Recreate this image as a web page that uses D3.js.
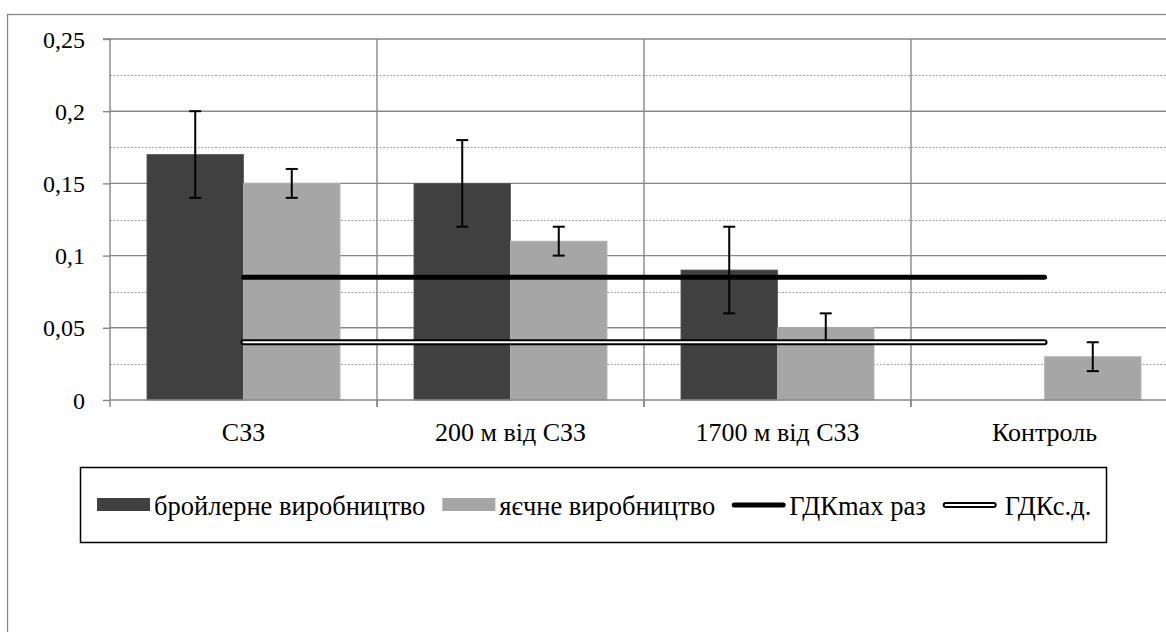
<!DOCTYPE html>
<html>
<head>
<meta charset="utf-8">
<script src="https://cdn.jsdelivr.net/npm/d3@7"></script>
<style>
  html, body { margin: 0; padding: 0; background: #fff; }
  svg { display: block; }
</style>
</head>
<body>
<svg id="chart" width="1166" height="632"></svg>
<script>
const categories = ["СЗЗ", "200 м від СЗЗ", "1700 м від СЗЗ", "Контроль"];
const seriesNames = ["бройлерне виробництво", "яєчне виробництво", "ГДКmax раз", "ГДКс.д."];
const broiler = [0.17, 0.15, 0.09, null];
const broilerErr = [0.03, 0.03, 0.03, null];
const egg = [0.15, 0.11, 0.05, 0.03];
const eggErr = [0.01, 0.01, 0.01, 0.01];
const gdkMax = [0.085, 0.085, 0.085, 0.085];
const gdkSd = [0.04, 0.04, 0.04, 0.04];
const yTicks = [0, 0.05, 0.1, 0.15, 0.2, 0.25];
const yMinorTicks = [0.025, 0.075, 0.125, 0.175, 0.225];

const FONT = "'Liberation Serif'";
const BASE = 30; // render text at 30px, then scale to the wanted size
const svg = d3.select("#chart");
const plot = { left: 110, top: 39, right: 1178, bottom: 400 };

const darkCol = "#404040", lightCol = "#a6a6a6", gridCol = "#878787";

svg.append("rect").attr("x", 7.5).attr("y", 14.5).attr("width", 1300).attr("height", 800)
  .attr("fill", "#fff").attr("stroke", "#878787").attr("stroke-width", 1.3);

const x = d3.scaleBand().domain(categories).range([plot.left, plot.right]).padding(0);
const y = d3.scaleLinear().domain([0, 0.25]).range([plot.bottom, plot.top]);
const inner = d3.scaleBand().domain([0, 1]).range([0, x.bandwidth()]).paddingInner(0).paddingOuter(0.383);
const fmt = d => String(d).replace(".", ",");

svg.append("g").selectAll("line").data(yMinorTicks).join("line")
  .attr("x1", plot.left).attr("x2", plot.right)
  .attr("y1", d => Math.round(y(d)) + 0.5).attr("y2", d => Math.round(y(d)) + 0.5)
  .attr("stroke", "#a3a3a3").attr("stroke-width", 1).attr("stroke-dasharray", "2,1.5");

svg.append("g").selectAll("line").data(yTicks.filter(d => d > 0)).join("line")
  .attr("x1", plot.left).attr("x2", plot.right)
  .attr("y1", d => y(d)).attr("y2", d => y(d))
  .attr("stroke", gridCol).attr("stroke-width", 1.4);

svg.append("g").selectAll("line").data(categories.slice(1)).join("line")
  .attr("x1", d => x(d)).attr("x2", d => x(d))
  .attr("y1", plot.top).attr("y2", plot.bottom + 7)
  .attr("stroke", gridCol).attr("stroke-width", 1.4);

const barData = [];
categories.forEach((c, i) => {
  if (broiler[i] != null) barData.push({ c, s: 0, v: broiler[i], e: broilerErr[i], col: darkCol, edge: "#555" });
  if (egg[i] != null) barData.push({ c, s: 1, v: egg[i], e: eggErr[i], col: lightCol, edge: "#b5b5b5" });
});
svg.append("g").selectAll("rect").data(barData).join("rect")
  .attr("x", d => x(d.c) + inner(d.s))
  .attr("y", d => y(d.v))
  .attr("width", inner.bandwidth())
  .attr("height", d => y(0) - y(d.v))
  .attr("fill", d => d.col)
  .attr("stroke", d => d.edge).attr("stroke-width", 0.8);

// y axis
const yAxis = d3.axisLeft(y).tickValues(yTicks).tickFormat(fmt).tickSize(7).tickPadding(18);
const gy = svg.append("g").attr("transform", `translate(${plot.left},0)`).call(yAxis)
  .attr("font-family", FONT).attr("font-size", BASE);
gy.select(".domain").attr("stroke", gridCol).attr("stroke-width", 1.4).attr("d", `M-7,${plot.top}H0V${plot.bottom}`);
gy.selectAll(".tick line").attr("stroke", gridCol).attr("stroke-width", 1.4);
gy.selectAll(".tick text")
  .style("font-family", FONT).style("font-size", BASE + "px")
  .attr("x", 0).attr("dy", "0.34em").attr("fill", "#000")
  .attr("transform", `translate(-25,0) scale(${24 / BASE})`);

// x axis
const gx = svg.append("g").attr("transform", `translate(0,${plot.bottom})`)
  .call(d3.axisBottom(x).tickSize(0).tickPadding(0))
  .attr("font-family", FONT).attr("font-size", BASE);
gx.select(".domain").attr("stroke", gridCol).attr("stroke-width", 1.4).attr("d", `M${plot.left},0H${plot.right}`);
gx.selectAll(".tick text")
  .style("font-family", FONT).style("font-size", BASE + "px")
  .attr("y", 0).attr("dy", 0).attr("fill", "#000")
  .attr("transform", `translate(0,41) scale(${26 / BASE})`);
svg.append("g").selectAll("line").data(categories).join("line")
  .attr("x1", d => x(d)).attr("x2", d => x(d))
  .attr("y1", plot.bottom).attr("y2", plot.bottom + 7)
  .attr("stroke", gridCol).attr("stroke-width", 1.4);

// error bars
const eb = svg.append("g").attr("stroke", "#000").attr("stroke-width", 2);
barData.forEach(d => {
  const cx = x(d.c) + inner(d.s) + inner.bandwidth() / 2;
  eb.append("line").attr("x1", cx).attr("x2", cx).attr("y1", y(d.v + d.e)).attr("y2", y(d.v - d.e));
  eb.append("line").attr("x1", cx - 6).attr("x2", cx + 6).attr("y1", y(d.v + d.e)).attr("y2", y(d.v + d.e));
  eb.append("line").attr("x1", cx - 6).attr("x2", cx + 6).attr("y1", y(d.v - d.e)).attr("y2", y(d.v - d.e));
});

// reference lines
const line = d3.line().x((d, i) => x(categories[i]) + x.bandwidth() / 2).y(d => y(d));
svg.append("path").attr("d", line(gdkMax)).attr("fill", "none")
  .attr("stroke", "#000").attr("stroke-width", 5).attr("stroke-linecap", "round");
svg.append("path").attr("d", line(gdkSd)).attr("fill", "none")
  .attr("stroke", "#000").attr("stroke-width", 6).attr("stroke-linecap", "round");
svg.append("path").attr("d", line(gdkSd)).attr("fill", "none")
  .attr("stroke", "#fff").attr("stroke-width", 2).attr("stroke-linecap", "round");

// legend
const lg = svg.append("g");
lg.append("rect").attr("x", 80.5).attr("y", 467.5).attr("width", 1026).attr("height", 75)
  .attr("fill", "#fff").attr("stroke", "#000").attr("stroke-width", 1.5);
let cx = 97;
const ly = 505;
const ls = 26.5 / BASE;
seriesNames.forEach((name, i) => {
  if (i < 2) {
    lg.append("rect").attr("x", cx).attr("y", ly - 7).attr("width", 53).attr("height", 13)
      .attr("fill", i === 0 ? darkCol : lightCol);
  } else if (i === 2) {
    lg.append("line").attr("x1", cx + 2).attr("x2", cx + 51).attr("y1", ly).attr("y2", ly)
      .attr("stroke", "#000").attr("stroke-width", 5).attr("stroke-linecap", "round");
  } else {
    lg.append("line").attr("x1", cx + 3).attr("x2", cx + 51).attr("y1", ly).attr("y2", ly)
      .attr("stroke", "#000").attr("stroke-width", 6).attr("stroke-linecap", "round");
    lg.append("line").attr("x1", cx + 3).attr("x2", cx + 51).attr("y1", ly).attr("y2", ly)
      .attr("stroke", "#fff").attr("stroke-width", 2).attr("stroke-linecap", "round");
  }
  cx += i === 3 ? 62 : 57;
  const t = lg.append("text").attr("x", 0).attr("y", 0)
    .attr("transform", `translate(${cx},${ly + 10}) scale(${ls})`)
    .style("font-family", FONT).style("font-size", BASE + "px").attr("fill", "#000").text(name);
  cx += t.node().getComputedTextLength() * ls + 17;
});
</script>
</body>
</html>
